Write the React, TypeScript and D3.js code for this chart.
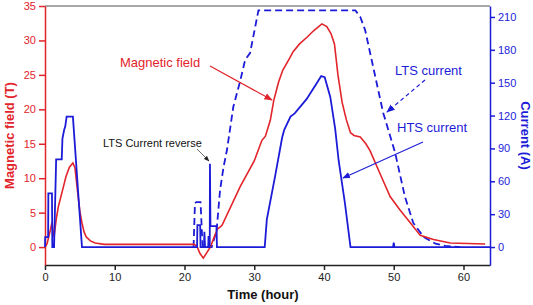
import React, { useRef, useEffect } from 'react';
import * as d3 from 'd3';

// magnetic field (T) vs time (hour)
const magneticField: [number, number][] = [
  [0, 0], [0.3, 0.5], [0.8, 2.6], [1.0, 3.6], [1.15, 2.4], [1.3, 1.5], [1.6, 4], [1.9, 5.8],
  [2.2, 7], [2.6, 8.6], [3.0, 10.2], [3.5, 11.6], [4.0, 12.2], [4.3, 11.5], [4.7, 7.8],
  [5.0, 5.2], [5.3, 3.5], [5.6, 2.2], [5.9, 1.5], [6.5, 0.9], [7.2, 0.6], [8.5, 0.4],
  [21.4, 0.4], [21.8, 0.1], [22.2, -0.9], [22.7, -1.6], [23.2, -0.8], [23.7, 0], [24.2, 1.3],
  [24.7, 2.6], [25.1, 2.9], [25.4, 3.2], [28.0, 8.8], [30.0, 12.5], [31.1, 15.5], [31.6, 16.1],
  [32.3, 18.4], [32.8, 21.3], [33.5, 24], [34.1, 25.7], [35.0, 27.3], [35.6, 28.4], [36.5, 29.5],
  [37.6, 30.5], [38.5, 31.4], [39.7, 32.4], [40.4, 32], [41.0, 31], [41.5, 29.5], [42.0, 25],
  [42.6, 21], [43.2, 18.5], [43.8, 16.6], [44.3, 16.2], [45.2, 16.0], [46.0, 15.0], [46.6, 14.0],
  [48.1, 10.5], [49.5, 7.3], [50.9, 5.4], [52.4, 3.5], [53.8, 1.7], [55.7, 1.1], [58.1, 0.6],
  [63.1, 0.45],
];

// HTS current (A)
const htsCurrent: [number, number][] = [
  [0, 0], [0.03, 9], [0.45, 9], [0.48, 49], [1.0, 49], [1.05, 0], [1.3, 0], [1.6, 80], [2.4, 80],
  [2.5, 99], [2.75, 107], [2.9, 110], [3.1, 119], [4.0, 119], [5.3, 0], [21.8, 0], [21.85, 20],
  [22.25, 20], [22.3, 0], [22.8, 0], [22.85, 14], [22.95, 0], [23.4, 0], [23.45, 10], [23.5, 0],
  [23.62, 0], [23.65, 76], [23.72, 19], [24.6, 19], [24.65, 0], [31.5, 0], [31.8, 25], [33.0, 65],
  [34.0, 100], [34.3, 107], [35.2, 119], [35.8, 122], [37.5, 135], [39.0, 150], [39.6, 156],
  [40.1, 155], [40.9, 137], [41.6, 108], [42.1, 79], [43.0, 40], [43.8, 0], [49.9, 0], [50.0, 4],
  [50.1, 0], [63.8, 0],
];

// LTS current (A)
const ltsCurrent: [number, number][] = [
  [21.3, 0], [21.5, 40], [21.7, 41], [22.3, 41], [22.45, 20], [22.6, 0], [23.9, 0], [24.6, 15],
  [25.1, 52], [25.6, 73], [26.1, 89], [27.0, 128], [28.0, 152], [28.7, 171], [29.4, 177],
  [30.6, 216], [44.5, 216], [45.2, 210], [45.9, 198], [48.5, 122], [48.8, 116], [50.2, 86],
  [51.6, 46], [52.8, 22], [54.3, 9], [56.0, 3], [57.4, 1], [59.5, 0],
];

const timeTicks = [0, 10, 20, 30, 40, 50, 60];
const fieldTicks = [0, 5, 10, 15, 20, 25, 30, 35];
const currentTicks = [0, 30, 60, 90, 120, 150, 180, 210];

const RED = '#e2242b';
const BLUE = '#1c1cd8';

const App = () => {
  const svgRef = useRef<SVGSVGElement>(null);

  useEffect(() => {
    const svg = d3.select(svgRef.current);
    svg.selectAll('*').remove();

    const left = 45, right = 490, top = 6, bottom = 265;
    const x = d3.scaleLinear().domain([0, 63.8]).range([left, right]);
    const yL = d3.scaleLinear().domain([-2.6, 35]).range([bottom, top]);
    const yR = d3.scaleLinear().domain([-16.4, 220]).range([bottom, top]);

    const defs = svg.append('defs');
    const marker = (id: string, color: string) => {
      defs.append('marker')
        .attr('id', id)
        .attr('viewBox', '0 0 10 10')
        .attr('refX', 9).attr('refY', 5)
        .attr('markerWidth', 7).attr('markerHeight', 7)
        .attr('orient', 'auto')
        .append('path')
        .attr('d', 'M0,1 L10,5 L0,9 Z')
        .attr('fill', color);
    };
    marker('arRed', RED);
    marker('arBlue', BLUE);
    marker('arBlack', '#222');

    // top frame
    svg.append('line')
      .attr('x1', left).attr('x2', right).attr('y1', top).attr('y2', top)
      .attr('stroke', '#555').attr('stroke-width', 1.2);

    const font = 'Arial, "Liberation Sans", sans-serif';

    // bottom axis
    const gx = svg.append('g').attr('transform', `translate(0,${bottom})`);
    gx.call(d3.axisBottom(x).tickValues(d3.range(5, 63, 10)).tickSize(3).tickSizeOuter(0).tickFormat(() => ''));
    gx.call(d3.axisBottom(x).tickValues(timeTicks).tickSize(5).tickSizeOuter(0).tickPadding(3));
    gx.selectAll('path, line').attr('stroke', '#222').attr('stroke-width', 1.5);
    gx.selectAll('text').attr('font-size', 11).attr('font-family', font).attr('fill', '#222');

    // left axis
    const gl = svg.append('g').attr('transform', `translate(${left},0)`);
    gl.call(d3.axisLeft(yL).tickValues(d3.range(2.5, 35, 5)).tickSize(3).tickSizeOuter(0).tickFormat(() => ''));
    gl.call(d3.axisLeft(yL).tickValues(fieldTicks).tickSize(6).tickSizeOuter(0).tickPadding(3));
    gl.selectAll('path, line').attr('stroke', RED).attr('stroke-width', 1.5);
    gl.selectAll('text').attr('font-size', 11).attr('font-family', font).attr('fill', RED);

    // right axis
    const gr = svg.append('g').attr('transform', `translate(${right},0)`);
    gr.call(d3.axisRight(yR).tickValues(d3.range(15, 210, 30)).tickSize(3).tickSizeOuter(0).tickFormat(() => ''));
    gr.call(d3.axisRight(yR).tickValues(currentTicks).tickSize(5).tickSizeOuter(0).tickPadding(3));
    gr.selectAll('path, line').attr('stroke', BLUE).attr('stroke-width', 1.5);
    gr.selectAll('text').attr('font-size', 11).attr('font-family', font).attr('fill', BLUE);

    // curves
    const lineL = d3.line<[number, number]>().x(d => x(d[0])).y(d => yL(d[1]));
    const lineR = d3.line<[number, number]>().x(d => x(d[0])).y(d => yR(d[1]));

    svg.append('path').datum(ltsCurrent).attr('d', lineR)
      .attr('fill', 'none').attr('stroke', BLUE).attr('stroke-width', 1.8)
      .attr('stroke-dasharray', '7,4');
    svg.append('path').datum(magneticField).attr('d', lineL)
      .attr('fill', 'none').attr('stroke', RED).attr('stroke-width', 1.6);
    svg.append('path').datum(htsCurrent).attr('d', lineR)
      .attr('fill', 'none').attr('stroke', BLUE).attr('stroke-width', 1.8);

    // annotations
    const label = (tx: number, ty: number, s: string, color: string, size: number) =>
      svg.append('text').attr('x', tx).attr('y', ty).text(s)
        .attr('fill', color).attr('font-size', size).attr('font-family', font);

    label(120, 67, 'Magnetic field', RED, 13);
    svg.append('line').attr('x1', 210).attr('y1', 66).attr('x2', 272).attr('y2', 100)
      .attr('stroke', RED).attr('stroke-width', 1.2).attr('marker-end', 'url(#arRed)');

    label(103, 147, 'LTS Current reverse', '#111', 11);
    svg.append('line').attr('x1', 197).attr('y1', 149).attr('x2', 209).attr('y2', 161)
      .attr('stroke', '#444').attr('stroke-width', 0.8).attr('marker-end', 'url(#arBlack)');

    label(395, 75, 'LTS current', BLUE, 13);
    svg.append('line').attr('x1', 425).attr('y1', 80).attr('x2', 387).attr('y2', 112)
      .attr('stroke', BLUE).attr('stroke-width', 1.2).attr('stroke-dasharray', '4,3')
      .attr('marker-end', 'url(#arBlue)');

    label(397, 132, 'HTS current', BLUE, 13);
    svg.append('line').attr('x1', 423).attr('y1', 142).attr('x2', 343).attr('y2', 178)
      .attr('stroke', BLUE).attr('stroke-width', 1.1).attr('marker-end', 'url(#arBlue)');

    // axis titles
    svg.append('text')
      .attr('transform', `translate(14,${(top + bottom) / 2}) rotate(-90)`)
      .attr('text-anchor', 'middle')
      .attr('font-weight', 'bold').attr('font-size', 13).attr('font-family', font)
      .attr('fill', RED).text('Magnetic field (T)');
    svg.append('text')
      .attr('transform', `translate(521,${(top + bottom) / 2}) rotate(90)`)
      .attr('text-anchor', 'middle')
      .attr('font-weight', 'bold').attr('font-size', 13).attr('font-family', font)
      .attr('fill', BLUE).text('Current (A)');
    svg.append('text')
      .attr('x', 263).attr('y', 299)
      .attr('text-anchor', 'middle')
      .attr('font-weight', 'bold').attr('font-size', 13).attr('font-family', font)
      .attr('fill', '#111').text('Time (hour)');
  }, []);

  return (
    <svg
      ref={svgRef}
      width={533}
      height={305}
      style={{ position: 'absolute', left: 0, top: 0, background: '#fff' }}
    />
  );
};

export default App;
